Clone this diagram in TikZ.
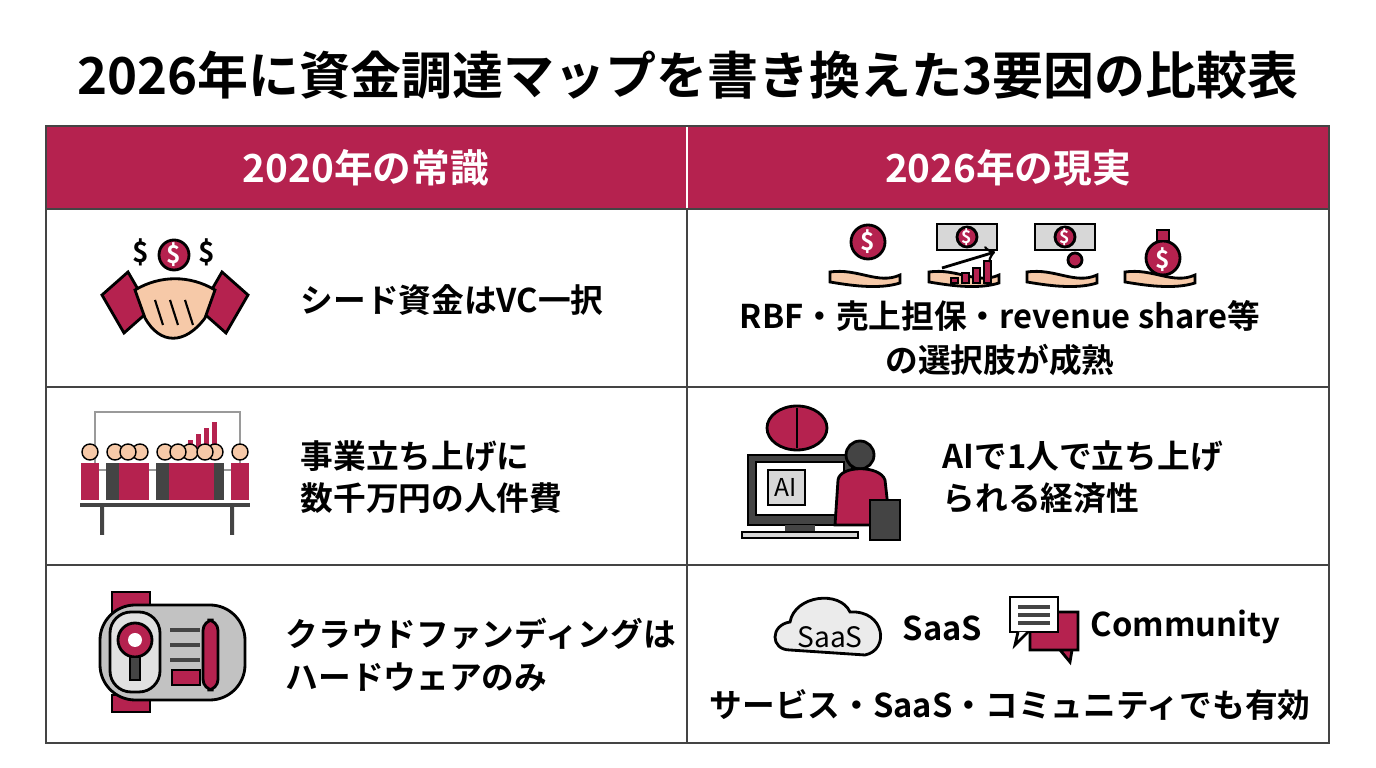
\documentclass[tikz,border=0pt]{standalone}
\usepackage{fontspec}
\setmainfont{Noto Sans CJK JP}[BoldFont={* Bold}]
\usetikzlibrary{positioning,shapes.geometric}
\definecolor{crim}{HTML}{B5224F}
\definecolor{gridc}{HTML}{444444}
\definecolor{greyc}{HTML}{9A9A9A}
\definecolor{skin}{HTML}{F6C9A8}
\tikzset{
  cell/.style={draw=gridc,line width=0.6pt},
  headtxt/.style={text=white,font=\bfseries\fontsize{11}{13}\selectfont},
  bodytxt/.style={font=\bfseries\fontsize{9.3}{12}\selectfont,align=left,anchor=west,inner sep=0pt},
  coin/.style={circle,draw=black,fill=crim,text=white,line width=0.8pt,inner sep=0pt,font=\bfseries\tiny},
  ico/.style={draw=black,line width=0.8pt},
}
\begin{document}
\begin{tikzpicture}[x=0.01cm,y=-0.01cm]
\useasboundingbox (0,0) rectangle (1376,768);
\fill[white] (0,0) rectangle (1376,768);
% title
\node[font=\bfseries\fontsize{14.5}{17}\selectfont] (title) at (688,75) {2026年に資金調達マップを書き換えた3要因の比較表};
% header
\fill[crim] (46,126) rectangle (1329,209);
\node[headtxt] (h1) at (366,168) {2020年の常識};
\node[headtxt] (h2) at (1008,168) {2026年の現実};
\draw[white,line width=0.6pt] (687,126) -- (687,209);
% grid
\foreach \y in {209,387,565} \draw[cell] (46,\y) -- (1329,\y);
\draw[cell] (46,126) rectangle (1329,743);
\draw[cell] (687,209) -- (687,743);
% texts
\node[bodytxt] (t1) at (300,300) {シード資金はVC一択};
\node[font=\bfseries\fontsize{9.3}{12.5}\selectfont,align=center] (t2) at (1000,338) {RBF・売上担保・revenue share等\\の選択肢が成熟};
\node[bodytxt] (t3) at (300,477) {事業立ち上げに\\数千万円の人件費};
\node[bodytxt] (t4) at (942,477) {AIで1人で立ち上げ\\られる経済性};
\node[bodytxt] (t5) at (285,655) {クラウドファンディングは\\ハードウェアのみ};
\node[bodytxt] (t6) at (902,628) {SaaS};
\node[bodytxt] (t7) at (1090,627) {Community};
\node[font=\bfseries\fontsize{9.3}{12}\selectfont] (t8) at (1010,705) {サービス・SaaS・コミュニティでも有効};
% handshake icon
\fill[crim,draw=black,line width=0.8pt] (102,295) -- (128,272) -- (150,310) -- (124,333) -- cycle;
\fill[crim,draw=black,line width=0.8pt] (248,295) -- (222,272) -- (200,310) -- (226,333) -- cycle;
\draw[ico,fill=skin] (135,290) .. controls (160,275) and (190,275) .. (215,290) -- (205,318) .. controls (185,345) and (160,345) .. (145,318) -- cycle;
\foreach \xx in {155,170,185} \draw[black,line width=0.6pt] (\xx,300) -- (\xx+8,325);
\node[coin,minimum size=0.3cm,font=\bfseries\fontsize{7}{7}\selectfont] (c0) at (174,255) {\$};
\node[font=\bfseries\fontsize{8}{8}\selectfont] (d1) at (141,252) {\$};
\node[font=\bfseries\fontsize{8}{8}\selectfont] (d2) at (207,252) {\$};
% team icon
\draw[greyc,line width=0.6pt] (95,412) rectangle (240,470);
\foreach \h [count=\i] in {10,16,22,28} \fill[crim] (180+\i*8,450-\h) rectangle (185+\i*8,450);
\foreach \x/\c in {90/crim,115/gridc,140/crim,165/gridc,190/crim,215/gridc,240/crim,128/crim,178/crim,205/crim} {
  \fill[skin,draw=black,line width=0.4pt] (\x,452) circle (8);
  \fill[\c] (\x-9,463) rectangle (\x+9,500);
}
\fill[gridc] (80,503) rectangle (250,507);
\fill[gridc] (100,505) rectangle (104,535) (230,505) rectangle (234,535);
% device icon
\draw[ico,fill=crim] (112,592) rectangle (150,612);
\draw[ico,fill=crim] (112,695) rectangle (150,712);
\draw[ico,fill=greyc!60,rounded corners=10pt] (100,605) rectangle (245,700);
\draw[ico,fill=greyc!30,rounded corners=6pt] (110,612) rectangle (160,692);
\draw[ico,fill=crim] (135,640) circle (17);
\fill[white] (135,640) circle (7);
\draw[ico,fill=gridc] (130,657) rectangle (140,680);
\foreach \yy in {630,645,660} \draw[gridc,line width=1.2pt] (170,\yy) -- (200,\yy);
\draw[ico,fill=crim] (172,670) rectangle (200,685);
\draw[ico,fill=crim,rounded corners=3pt] (203,620) rectangle (218,690);
% right row 1 icons
\foreach \x [count=\i] in {868,967,1065,1163} {
  \draw[ico,fill=skin] (\x-38,272) .. controls (\x-10,268) and (\x+10,285) .. (\x+32,275) -- (\x+32,283) .. controls (\x+10,290) and (\x-20,285) .. (\x-38,282) -- cycle;
}
\node[coin,minimum size=0.34cm,font=\bfseries\fontsize{7}{7}\selectfont] (r1) at (868,242) {\$};
\draw[ico,fill=greyc!40] (937,224) rectangle (997,250);
\node[coin,minimum size=0.2cm] (r2) at (967,237) {\$};
\foreach \h [count=\i] in {5,10,15,22} \fill[crim,draw=black] (940+\i*11,283-\h) rectangle (947+\i*11,283);
\draw[ico,->] (942,268) -- (995,252);
\draw[ico,fill=greyc!40] (1035,224) rectangle (1095,250);
\node[coin,minimum size=0.2cm] (r3) at (1065,237) {\$};
\node[coin,minimum size=0.14cm] (r4) at (1075,260) {};
\draw[ico,fill=crim] (1163,258) circle (17);
\draw[ico,fill=crim] (1157,230) rectangle (1169,241);
\node[text=white,font=\bfseries\scriptsize] (r5) at (1163,260) {\$};
% ai icon
\draw[ico,fill=gridc] (748,455) rectangle (852,525);
\draw[ico,fill=white] (756,462) rectangle (844,515);
\draw[ico,fill=greyc!40] (768,470) rectangle (805,505);
\node[font=\scriptsize] (ai) at (786,487) {AI};
\fill[gridc] (785,525) rectangle (815,532);
\draw[ico,fill=greyc!40] (742,532) -- (858,532) -- (858,538) -- (742,538) -- cycle;
\draw[ico,fill=crim] (797,428) ellipse (30 and 22);
\draw[black,line width=0.6pt] (797,408) -- (797,448);
\draw[ico,fill=gridc] (860,455) circle (14);
\draw[ico,fill=crim] (838,480) .. controls (840,465) and (880,465) .. (885,480) -- (890,525) -- (835,525) -- cycle;
\draw[ico,fill=gridc] (870,500) rectangle (900,540);
% cloud icon
\draw[ico,fill=greyc!20] (790,650) .. controls (770,650) and (770,625) .. (790,622) .. controls (795,595) and (840,590) .. (850,612) .. controls (885,610) and (890,650) .. (865,655) -- cycle;
\node[font=\fontsize{8}{8}\selectfont] (saas) at (830,637) {SaaS};
% speech bubbles
\draw[ico,fill=crim] (1030,612) rectangle (1078,650) (1060,650) -- (1070,662) -- (1072,650);
\draw[ico,fill=white] (1010,597) rectangle (1058,632);
\foreach \yy in {607,615,623} \draw[gridc,line width=1pt] (1018,\yy) -- (1050,\yy);
\draw[ico,fill=white] (1018,632) -- (1015,645) -- (1028,632);
\end{tikzpicture}
\end{document}
